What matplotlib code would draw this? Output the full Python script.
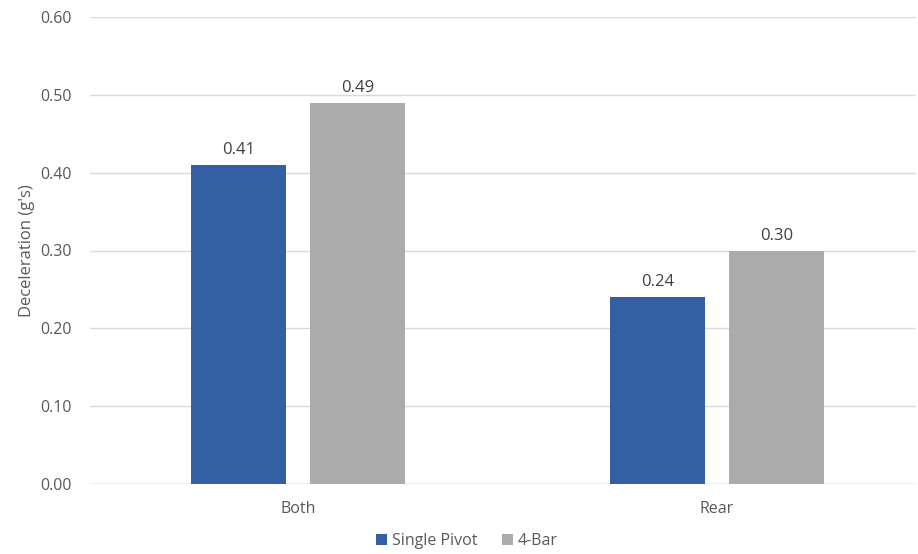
import matplotlib
matplotlib.use("Agg")
import matplotlib.pyplot as plt
import numpy as np

categories = ["Both", "Rear"]
series_names = ["Single Pivot", "4-Bar"]
single_pivot = [0.41, 0.24]
four_bar = [0.49, 0.30]
yticks = [0.0, 0.1, 0.2, 0.3, 0.4, 0.5, 0.6]

plt.rcParams["font.family"] = ["Open Sans", "DejaVu Sans"]
text_color = "#595959"

fig = plt.figure(figsize=(9.18, 5.54), dpi=100)
ax = fig.add_axes([90 / 918, 1 - 484 / 554, (916 - 90) / 918, (484 - 17) / 554])

x = np.arange(len(categories))
width = 0.227
offset = 0.1425
colors = ["#355FA3", "#ABABAB"]
for vals, dx, color, name in zip([single_pivot, four_bar], [-offset, offset], colors, series_names):
    bars = ax.bar(x + dx, vals, width, color=color, label=name, zorder=3)
    for b, v in zip(bars, vals):
        ax.annotate(f"{v:.2f}", (b.get_x() + b.get_width() / 2, v), xytext=(0, 5),
                    textcoords="offset points", ha="center", va="bottom",
                    fontsize=12, color="#404040")

ax.set_xlim(-0.496, 1.475)
ax.set_ylim(0, 0.6)
ax.set_yticks(yticks)
ax.set_yticklabels([f"{t:.2f}" for t in yticks])
ax.set_xticks(x)
ax.set_xticklabels(categories)
ax.tick_params(axis="both", length=0, labelsize=11.5, labelcolor=text_color)
ax.tick_params(axis="y", pad=13)
ax.tick_params(axis="x", pad=12)
ax.grid(axis="y", color="#D9D9D9", linewidth=1, zorder=0)
for s in ax.spines.values():
    s.set_visible(False)
ax.axhline(0, color="#D9D9D9", linewidth=1, zorder=1)

ax.set_ylabel("Deceleration (g's)", fontsize=12, color=text_color, labelpad=4)

fig.legend(loc="center", bbox_to_anchor=(467 / 918, 1 - 541 / 554), ncol=2,
           frameon=False, fontsize=11.5, handlelength=0.7, handleheight=0.7,
           handletextpad=0.3, columnspacing=1.5, labelcolor=text_color)

fig.savefig("out.png", dpi=100)
